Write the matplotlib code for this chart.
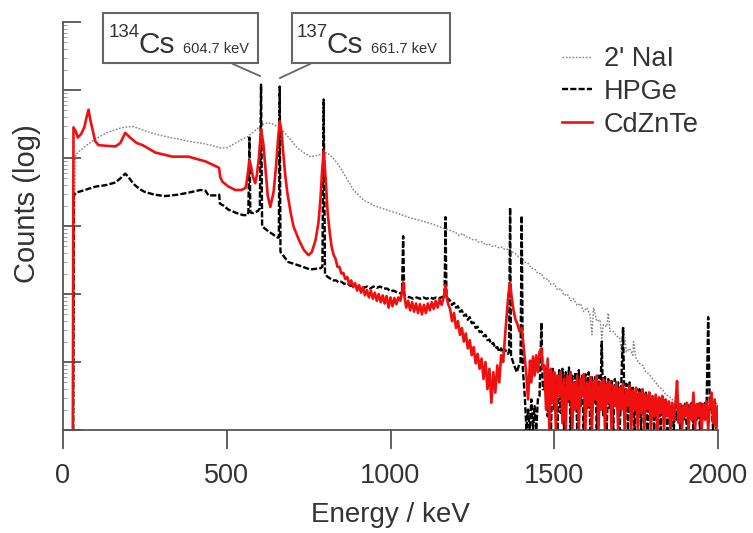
import numpy as np
import matplotlib
matplotlib.use("Agg")
import matplotlib.pyplot as plt
from matplotlib.patches import Rectangle
from matplotlib.lines import Line2D

plt.rcParams['font.family'] = ['Liberation Sans', 'DejaVu Sans']

# ---------------- data (energy in keV, counts as log10 decades) ----------------
nai_E = [33, 36, 38, 50, 70, 90, 110, 130, 150, 175, 200, 215, 240, 270, 300, 330, 360, 390,
         420, 450, 480, 500, 520, 545, 563, 585, 609, 623, 640, 663, 690, 715, 735, 755, 780,
         806, 820, 837, 860, 887, 918, 950, 985, 1020, 1060, 1100, 1121, 1160, 1190,
         1200, 1210, 1220, 1230, 1240, 1250, 1260, 1270, 1280, 1290, 1300, 1310, 1320, 1330,
         1340, 1350, 1360, 1370, 1380, 1390, 1400, 1410, 1420, 1430, 1440, 1450, 1460, 1470,
         1480, 1490, 1500, 1510, 1520, 1530, 1540, 1550, 1560, 1570, 1580, 1590, 1600, 1610,
         1615, 1620, 1630, 1640, 1645, 1650, 1660, 1665, 1670, 1680, 1690, 1700, 1705, 1710,
         1712, 1720, 1730, 1740, 1742, 1750, 1760, 1770, 1780, 1790, 1800, 1810, 1820, 1830,
         1840, 1850, 1860, 1870, 1880, 1890, 1900, 1910, 1920, 1930, 1940, 1950, 1960, 1970,
         1980, 1990, 2000]
nai_logc = [0.0, 3.6, 4.05, 4.10, 4.18, 4.25, 4.31, 4.36, 4.40, 4.44, 4.46, 4.46, 4.42, 4.37, 4.33,
            4.30, 4.27, 4.24, 4.22, 4.19, 4.15, 4.15, 4.20, 4.27, 4.31, 4.40, 4.49, 4.52, 4.50,
            4.44, 4.30, 4.15, 4.08, 4.02, 4.04, 4.08, 4.02, 3.93, 3.75, 3.53, 3.38, 3.30, 3.24,
            3.19, 3.12, 3.07, 3.04, 2.97, 2.92,
            2.90, 2.86, 2.89, 2.84, 2.83, 2.80, 2.80, 2.76, 2.77, 2.72, 2.74, 2.70, 2.71, 2.68,
            2.69, 2.65, 2.66, 2.62, 2.60, 2.55, 2.54, 2.47, 2.45, 2.38, 2.37, 2.30, 2.30, 2.22,
            2.22, 2.14, 2.15, 2.06, 2.08, 1.98, 2.00, 1.90, 1.93, 1.83, 1.86, 1.74, 1.80, 1.68,
            1.40, 1.80, 1.60, 1.62, 1.35, 1.55, 1.52, 1.72, 1.45, 1.45, 1.38, 1.36, 1.15, 1.30,
            1.52, 1.15, 1.20, 1.10, 1.30, 1.05, 0.98, 0.95, 0.85, 0.82, 0.75, 0.70, 0.63, 0.60,
            0.52, 0.50, 0.45, 0.42, 0.40, 0.38, 0.40, 0.37, 0.40, 0.38, 0.36, 0.40, 0.38, 0.40,
            0.37, 0.40, 0.38]

hpge_E = [31, 33, 40, 60, 80, 100, 130, 160, 175, 190, 200, 215, 235, 250, 280, 312, 350, 383,
          420, 435, 444, 470, 477, 479, 490, 505, 530, 550, 563, 566, 569.3, 572, 580, 595, 601,
          604.7, 608, 612, 625, 640, 655, 659, 661.7, 664, 670, 688, 720, 755, 786, 792, 795.9,
          800, 806, 812, 818, 826, 834, 842, 850, 858, 868, 878, 888, 898, 908, 918, 928, 938,
          948, 958, 968, 979, 990, 1000, 1010, 1020, 1030, 1035, 1038.6, 1042, 1050, 1060, 1070,
          1080, 1090, 1100, 1110, 1121, 1130, 1140, 1150, 1160, 1165, 1167.9, 1171, 1176, 1182,
          1188, 1194, 1200, 1206, 1212, 1218, 1224, 1230, 1236, 1242, 1248, 1254, 1260, 1266,
          1272, 1278, 1284, 1290, 1296, 1302, 1308, 1314, 1320, 1326, 1332, 1338, 1344, 1350,
          1358, 1362, 1365.2, 1368, 1374, 1380, 1386, 1392, 1397, 1400.6, 1404, 1410, 1415,
          1420, 1425, 1430, 1435, 1440, 1445, 1450, 1455, 1460.8, 1465]
hpge_logc = [0.0, 3.45, 3.49, 3.52, 3.55, 3.58, 3.60, 3.64, 3.70, 3.77, 3.72, 3.62, 3.54, 3.50,
             3.46, 3.44, 3.46, 3.49, 3.53, 3.52, 3.45, 3.45, 3.46, 3.33, 3.30, 3.24, 3.19, 3.16,
             3.16, 3.20, 4.30, 3.20, 3.19, 3.22, 3.26, 5.08, 3.00, 2.98, 2.93, 2.88, 2.83, 2.83,
             5.05, 2.62, 2.58, 2.47, 2.42, 2.36, 2.38, 2.40, 4.86,
             2.30, 2.26, 2.24, 2.22, 2.20, 2.20, 2.17, 2.18, 2.15, 2.16, 2.12, 2.13, 2.10, 2.12,
             2.09, 2.11, 2.08, 2.11, 2.09, 2.11, 2.08, 2.08, 2.04, 2.05, 2.02, 2.01, 2.00, 2.85,
             1.98, 1.96, 1.95, 1.93, 1.95, 1.93, 1.95, 1.93, 1.95, 1.93, 1.95, 1.94, 1.96, 1.97,
             3.13, 1.95, 1.93, 1.90, 1.84, 1.87, 1.80, 1.82, 1.74, 1.76, 1.68, 1.70, 1.62, 1.66,
             1.57, 1.58, 1.50, 1.52, 1.44, 1.45, 1.38, 1.40, 1.32, 1.33, 1.26, 1.28, 1.20, 1.22,
             1.15, 1.20, 1.13, 1.18, 1.12, 1.15, 3.27, 1.10, 1.00, 0.92, 0.85, 0.95, 1.00, 3.15,
             0.90, 0.50, 0.00, 0.30, 0.00, 0.45, 0.00, 0.35, 0.00, 0.45, 0.50, 1.58, 0.60]

# high-energy region, 5 keV channels from 1470 to 2000 keV
tail_E = np.arange(1470, 2001, 5)
hpge_tail_logc = [0.60, 0.90, 0.20, 0.85, 0.00, 0.90, 0.30, 0.80, 0.00, 0.88, 0.25, 0.90, 0.00,
                  0.85, 0.40, 0.92, 0.00, 0.80, 0.30, 0.85, 0.00, 0.88, 0.35, 0.80, 0.00, 0.82,
                  0.30, 0.85, 0.00, 0.80, 0.40, 0.78, 0.00, 0.80, 0.30, 1.30, 0.20, 0.78, 0.00,
                  0.75, 0.30, 0.72, 0.00, 0.75, 0.35, 0.70, 0.00, 0.72, 1.50, 0.20, 0.68, 0.00,
                  0.70, 0.30, 0.65, 0.00, 0.62, 0.25, 0.60, 0.00, 0.58, 0.30, 0.55, 0.00, 0.55,
                  0.20, 0.50, 0.00, 0.50, 0.20, 0.45, 0.00, 0.45, 0.20, 0.42, 0.00, 0.40, 0.15,
                  0.40, 0.00, 0.38, 0.15, 0.36, 0.00, 0.35, 0.15, 0.38, 0.00, 0.36, 0.20, 0.40,
                  0.00, 0.38, 0.15, 0.40, 0.00, 0.38, 0.20, 0.40, 0.30, 1.66, 0.30, 0.40, 0.00,
                  0.38, 0.10, 0.35]
czt_tail_logc = [0.95, 0.30, 1.05, 0.00, 0.90, 0.40, 0.85, 0.00, 0.80, 0.50, 0.85, 0.10, 0.75,
                 0.00, 0.80, 0.45, 0.85, 0.00, 0.70, 0.30, 0.80, 0.00, 0.75, 0.50, 0.82, 0.00,
                 0.70, 0.35, 0.78, 0.00, 0.72, 0.45, 0.80, 0.00, 0.70, 0.30, 0.75, 0.00, 0.68,
                 0.40, 0.72, 0.00, 0.65, 0.35, 0.70, 0.00, 0.62, 0.30, 0.68, 0.00, 0.60, 0.35,
                 0.65, 0.00, 0.58, 0.30, 0.62, 0.00, 0.55, 0.25, 0.60, 0.00, 0.52, 0.30, 0.55,
                 0.00, 0.50, 0.20, 0.52, 0.00, 0.48, 0.25, 0.50, 0.00, 0.45, 0.20, 0.42, 0.00,
                 0.40, 0.15, 0.38, 0.72, 0.10, 0.38, 0.00, 0.36, 0.20, 0.40, 0.00, 0.37, 0.15,
                 0.55, 0.00, 0.38, 0.20, 0.40, 0.00, 0.38, 0.15, 0.42, 0.00, 0.40, 0.55, 0.10,
                 0.45, 0.00, 0.35]

czt_E = [30, 32, 40, 45, 55, 65, 72, 78, 84, 90, 98, 108, 130, 160, 175, 190, 205, 225, 243,
         282, 334, 383, 435, 475, 477, 480, 487, 505, 526, 545, 557, 560, 565, 569.3, 574, 580,
         587, 592, 598, 604.7, 612, 618, 625, 633, 643, 650, 657, 661.7, 667, 672, 679, 685, 695,
         704, 720, 735, 750, 760, 771, 780, 786, 791, 795.9, 802, 808, 814,
         820, 826, 832, 838, 844, 850, 856, 862, 868, 874, 880, 886, 892, 898, 904, 910, 916,
         922, 928, 934, 940, 946, 952, 958, 964, 970, 976, 982, 988, 994, 1000, 1006, 1012,
         1018, 1024, 1030, 1034, 1038.6, 1043, 1048, 1054, 1060, 1066, 1072, 1078, 1084, 1090,
         1096, 1102, 1108, 1114, 1120, 1126, 1132, 1138, 1144, 1150, 1156, 1162, 1165, 1167.9,
         1171, 1176, 1182, 1188, 1194, 1200, 1206, 1212, 1218, 1224, 1230, 1236, 1242, 1248,
         1254, 1260, 1266, 1272, 1278, 1284, 1290, 1296, 1302, 1308, 1314, 1320, 1326, 1332,
         1338, 1344, 1350, 1356, 1360, 1365.2, 1370, 1376, 1382, 1388, 1394, 1400.6, 1405, 1410,
         1415, 1420, 1426, 1430, 1435, 1440, 1445, 1450, 1455, 1460.8, 1465]
czt_logc = [0.0, 4.45, 4.38, 4.30, 4.35, 4.45, 4.60, 4.71, 4.55, 4.42, 4.25, 4.19, 4.18, 4.17,
            4.22, 4.37, 4.30, 4.22, 4.19, 4.08, 4.02, 4.02, 3.95, 3.86, 3.84, 3.72, 3.65, 3.58,
            3.53, 3.53, 3.56, 3.62, 3.80, 3.97, 3.88, 3.72, 3.63, 3.75, 4.00, 4.42, 4.20, 3.85,
            3.45, 3.28, 3.50, 3.85, 4.30, 4.54, 4.40, 4.10, 3.73, 3.49, 3.20, 2.99, 2.80, 2.65,
            2.57, 2.62, 2.79, 3.05, 3.38, 3.80, 4.10, 3.70, 3.20, 2.92,
            2.70, 2.58, 2.52, 2.40, 2.40, 2.30, 2.31, 2.22, 2.25, 2.14, 2.20, 2.10, 2.16, 2.05,
            2.13, 2.02, 2.10, 1.98, 2.06, 1.95, 2.05, 1.93, 2.02, 1.90, 2.00, 1.88, 1.98, 1.86,
            1.97, 1.80, 1.95, 1.82, 1.94, 1.85, 1.95, 1.90, 2.00, 2.17, 1.95, 1.80, 1.90, 1.76,
            1.88, 1.74, 1.86, 1.72, 1.85, 1.70, 1.84, 1.72, 1.86, 1.76, 1.88, 1.78, 1.90, 1.80,
            1.92, 1.84, 1.95, 2.00, 2.13, 1.98, 1.85, 1.78, 1.60, 1.72, 1.50, 1.60, 1.40, 1.50,
            1.30, 1.42, 1.20, 1.32, 1.10, 1.22, 0.98, 1.12, 0.90, 1.05, 0.75, 1.00, 0.60, 0.90,
            0.40, 0.85, 0.55, 0.95, 0.70, 1.10, 1.00, 1.40, 1.76, 2.00, 2.17, 1.95, 1.75, 1.62,
            1.55, 1.45, 1.50, 1.30, 1.05, 0.80, 0.45, 1.02, 0.70, 1.08, 0.80, 1.10, 0.85, 1.15,
            1.20, 0.90]

series_labels = ["2' NaI", "HPGe", "CdZnTe"]
x_ticks = [0, 500, 1000, 1500, 2000]

# ---------------- figure ----------------
W, H = 753, 533
fig = plt.figure(figsize=(W / 100, H / 100), dpi=100)
ax = fig.add_axes([63 / W, 1 - 430 / H, (718 - 63) / W, (430 - 22) / H])

def counts(lst):
    return 10.0 ** np.asarray(lst, dtype=float)

hp_x = np.concatenate([hpge_E, tail_E])
hp_y = counts(list(hpge_logc) + list(hpge_tail_logc))
cz_x = np.concatenate([czt_E, tail_E])
cz_y = counts(list(czt_logc) + list(czt_tail_logc))

ax.plot(nai_E, counts(nai_logc), color='#808080', lw=1.0, ls=(0, (1.2, 1.2)),
        label=series_labels[0], zorder=2)
ax.plot(hp_x, hp_y, color='black', lw=1.7, ls=(0, (2.6, 0.9)),
        label=series_labels[1], zorder=3)
ax.plot(cz_x, cz_y, color='#f01010', lw=1.9, ls='-',
        label=series_labels[2], zorder=4)

ax.set_yscale('log')
ax.set_ylim(1, 1e6)
ax.set_xlim(0, 2000)
ax.set_xticks(x_ticks)
ax.set_xticklabels([str(t) for t in x_ticks])
ax.set_yticks([10.0 ** k for k in range(7)])
ax.yaxis.set_major_formatter(matplotlib.ticker.NullFormatter())
ax.yaxis.set_minor_locator(matplotlib.ticker.LogLocator(base=10, subs=np.arange(2, 10), numticks=20))
ax.yaxis.set_minor_formatter(matplotlib.ticker.NullFormatter())

for s in ['top', 'right']:
    ax.spines[s].set_visible(False)
for s in ['left', 'bottom']:
    ax.spines[s].set_color('#555555')
    ax.spines[s].set_linewidth(1.3)

ax.tick_params(axis='x', direction='out', length=14, width=1.3, color='#555555',
               labelsize=19.5, pad=10, labelcolor='#333333')
ax.tick_params(axis='y', which='major', direction='in', length=13, width=1.3, color='#555555')
ax.tick_params(axis='y', which='minor', direction='in', length=3, width=0.6, color='#888888')

ax.set_xlabel('Energy / keV', fontsize=20, color='#333333', labelpad=9)
ax.set_ylabel('Counts (log)', fontsize=21, color='#333333')
ax.yaxis.set_label_coords(-0.033, 0.556)

leg = ax.legend(loc='upper left', bbox_to_anchor=(562 / W, 1 - 46 / H),
                bbox_transform=fig.transFigure, frameon=False, fontsize=19.5,
                handlelength=1.1, handletextpad=0.45, labelspacing=0.25,
                borderaxespad=0, borderpad=0)
for t in leg.get_texts():
    t.set_color('#333333')

# annotation boxes
def fx(px):
    return px / W

def fy(py):
    return 1 - py / H

for (x0, x1) in [(103, 258), (292, 450)]:
    fig.add_artist(Rectangle((fx(x0), fy(63)), fx(x1) - fx(x0), fy(13) - fy(63),
                             transform=fig.transFigure, fill=True, facecolor='white',
                             edgecolor='#666666', lw=1.5, zorder=10))

labels = [("134", "Cs", "604.7 keV", 109), ("137", "Cs", "661.7 keV", 297)]
for sup, el, en, x0 in labels:
    fig.text(fx(x0), fy(37), sup, fontsize=13.5, color='#333333', zorder=11)
    fig.text(fx(x0 + 30), fy(53), el, fontsize=21.5, color='#333333', zorder=11)
    fig.text(fx(x0 + 74), fy(53), en, fontsize=10.5, color='#333333', zorder=11)

for (a, b) in [((233, 64), (260, 76)), ((310, 64), (280, 78))]:
    fig.add_artist(Line2D([fx(a[0]), fx(b[0])], [fy(a[1]), fy(b[1])],
                          transform=fig.transFigure, color='#666666', lw=1.3, zorder=10))

fig.savefig('out.png', dpi=100)
